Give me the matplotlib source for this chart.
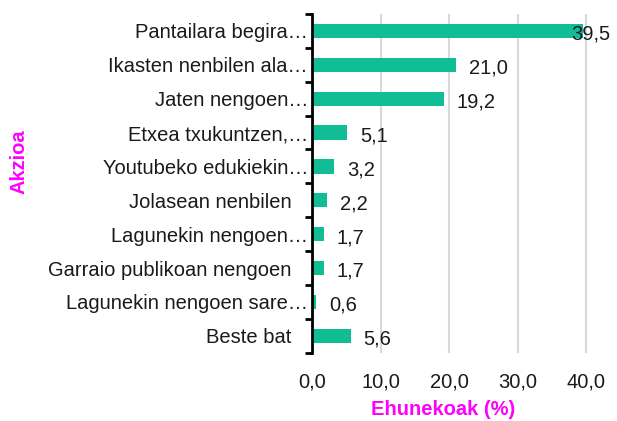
import matplotlib.pyplot as plt
from matplotlib.transforms import ScaledTranslation
import numpy as np

plt.rcParams['font.family'] = ['Liberation Sans', 'DejaVu Sans']

labels = [
    "Pantailara begira…",
    "Ikasten nenbilen ala…",
    "Jaten nengoen…",
    "Etxea txukuntzen,…",
    "Youtubeko edukiekin…",
    "Jolasean nenbilen",
    "Lagunekin nengoen…",
    "Garraio publikoan nengoen",
    "Lagunekin nengoen sare…",
    "Beste bat",
]
values = [39.5, 21.0, 19.2, 5.1, 3.2, 2.2, 1.7, 1.7, 0.6, 5.6]
xticks = [0, 10, 20, 30, 40]

bar_color = "#10BD95"
accent = "#FF00FF"
fs = 14.5


def fmt(v):
    return f"{v:.1f}".replace(".", ",")


fig = plt.figure(figsize=(6.17, 4.21), dpi=100)
ax = fig.add_axes([0.506, 0.162, 0.494, 0.805])

y = np.arange(len(labels))
ax.barh(y, values, height=0.42, color=bar_color, zorder=3)
ax.set_ylim(len(labels) - 0.5, -0.5)
ax.set_xlim(0, 44.5)

for yi, v in zip(y, values):
    ax.text(min(v + 1.9, 37.8), yi + 0.1, fmt(v), va="center", ha="left",
            fontsize=fs, color="#1a1a1a", zorder=4)

ax.set_yticks(y)
ax.set_yticklabels(labels, fontsize=fs, color="#1a1a1a")
ax.set_yticks(np.arange(-0.5, len(labels), 1), minor=True)
ax.tick_params(axis="y", which="major", length=0, pad=3)
ax.tick_params(axis="y", which="minor", length=5, width=2, direction="out")

# labels that were not shortened sit further from the axis
shift = ScaledTranslation(-12 / 72, 0, fig.dpi_scale_trans)
for lab in ax.get_yticklabels():
    if not lab.get_text().endswith("…"):
        lab.set_transform(lab.get_transform() + shift)

ax.set_xticks(xticks)
ax.set_xticklabels([fmt(t) for t in xticks], fontsize=fs, color="#1a1a1a")
ax.tick_params(axis="x", length=0, pad=14)
ax.grid(axis="x", color="#d9d9d9", linewidth=1.5, zorder=0)

for s in ["top", "right", "bottom"]:
    ax.spines[s].set_visible(False)
ax.spines["left"].set_linewidth(2)
ax.spines["left"].set_zorder(5)

fig.text(0.718, 0.005, "Ehunekoak (%)", color=accent, fontsize=fs,
         fontweight="bold", ha="center", va="bottom")
fig.text(0.031, 0.615, "Akzioa", color=accent, fontsize=fs,
         fontweight="bold", rotation=90, ha="center", va="center")

fig.savefig("out.png", dpi=100)
